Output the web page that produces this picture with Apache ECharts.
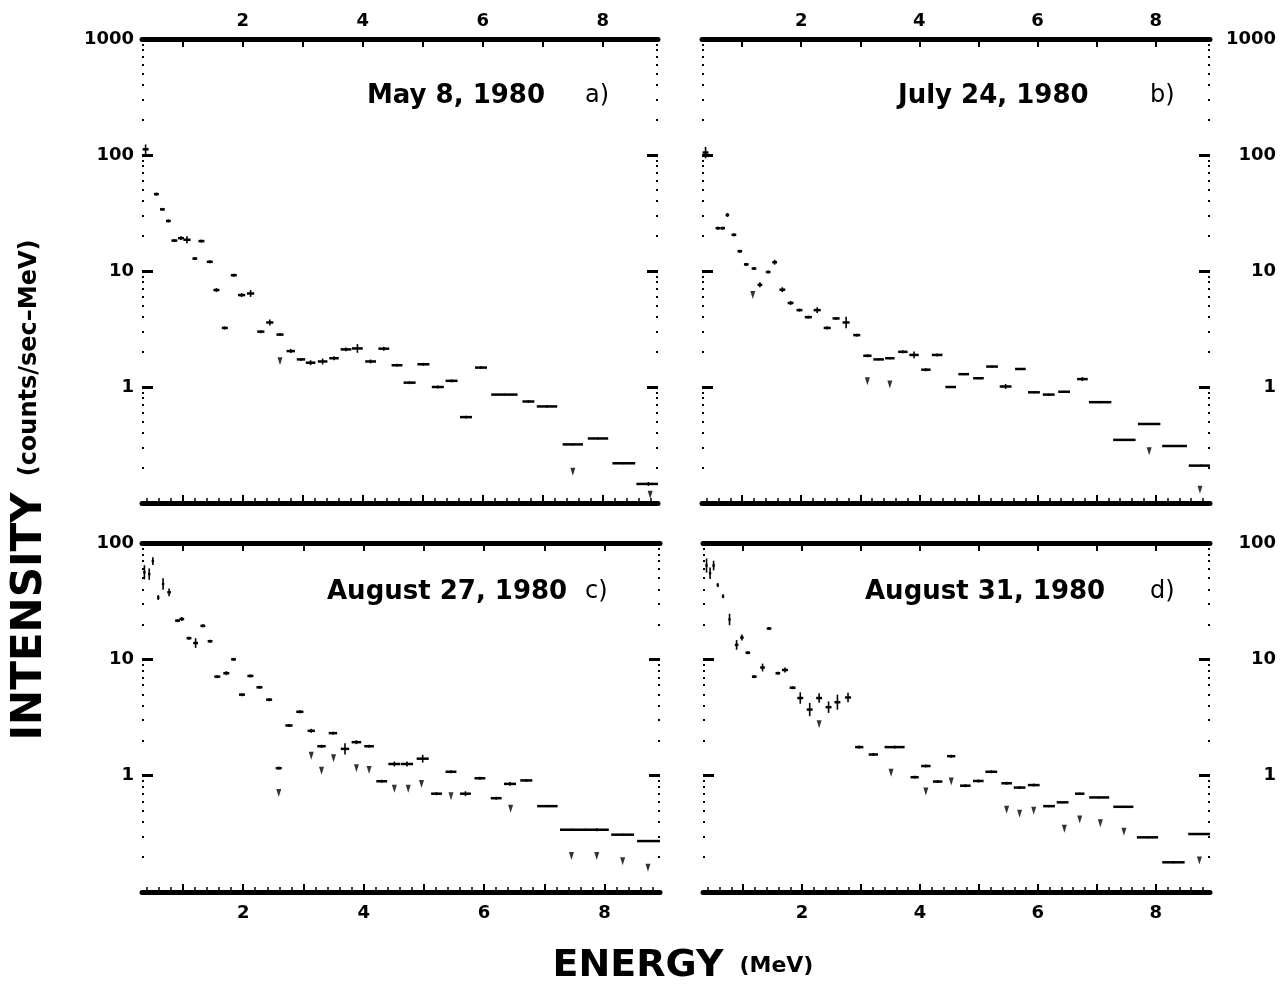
<!DOCTYPE html>
<html><head><meta charset="utf-8">
<script src="https://cdn.jsdelivr.net/npm/echarts@6/dist/echarts.min.js"></script>
<style>html,body{margin:0;padding:0;background:#fff}#c{width:1281px;height:986px}</style>
</head><body><div id="c"></div>
<script>
// ---------- axis / tick data ----------
const energyMin = 0.32, energyMax = 8.92;
const majorTicksX = [1, 2, 3, 4, 5, 6, 7, 8];
const labelTicksX = [2, 4, 6, 8];
const yLabelsTop = [1, 10, 100, 1000];
const yLabelsBottom = [1, 10, 100];
const panelTitles = ['May 8, 1980', 'July 24, 1980', 'August 27, 1980', 'August 31, 1980'];
const panelLetters = ['a)', 'b)', 'c)', 'd)'];

// ---------- panel a (May 8, 1980) ----------
const aE = [0.38,0.56,0.66,0.76,0.86,0.97,1.07,1.20,1.31,1.45,1.56,1.70,1.85,1.98,2.13,2.30,2.45,2.62,2.80,2.97,3.13,3.33,3.52,3.72,3.91,4.13,4.35,4.57,4.78,5.01,5.25,5.48,5.72,5.97,6.36,6.76,7.07,7.50,7.92,8.35,8.76];
const aW = [0.05,0.04,0.04,0.04,0.05,0.05,0.06,0.04,0.05,0.05,0.05,0.05,0.05,0.06,0.06,0.06,0.06,0.06,0.07,0.07,0.08,0.08,0.08,0.09,0.09,0.09,0.09,0.09,0.10,0.10,0.10,0.10,0.10,0.10,0.22,0.10,0.17,0.17,0.17,0.19,0.20];
const aI = [112,46,34,27,18.3,19.2,18.6,12.8,18.1,12.0,6.85,3.23,9.2,6.2,6.4,3.0,3.6,2.83,2.04,1.73,1.62,1.66,1.77,2.11,2.15,1.66,2.14,1.54,1.09,1.57,1.0,1.13,0.55,1.47,0.86,0.75,0.68,0.32,0.36,0.22,0.146];
const aErr = [0.10,0.03,0.03,0.03,0.03,0.04,0.07,0.03,0.03,0.03,0.04,0.03,0.03,0.04,0.07,0.03,0.06,0.03,0.04,0.03,0.05,0.06,0.04,0.04,0.09,0.04,0.04,0.03,0.03,0.03,0.03,0.03,0.03,0.03,0.02,0.03,0.03,0.02,0.02,0.02,0.04];
const aArrows = [[2.62,1.67],[7.50,0.186],[8.79,0.118]];

// ---------- panel b (July 24, 1980) ----------
const bE = [0.38,0.59,0.67,0.75,0.86,0.96,1.07,1.20,1.30,1.44,1.55,1.68,1.82,1.97,2.12,2.27,2.44,2.59,2.76,2.94,3.12,3.31,3.50,3.72,3.91,4.11,4.30,4.53,4.75,5.00,5.23,5.46,5.71,5.94,6.19,6.45,6.76,7.06,7.47,7.89,8.32,8.77];
const bW = [0.05,0.04,0.04,0.03,0.04,0.04,0.04,0.04,0.04,0.04,0.04,0.05,0.05,0.05,0.06,0.06,0.06,0.06,0.06,0.06,0.07,0.09,0.08,0.08,0.08,0.08,0.09,0.09,0.09,0.09,0.10,0.10,0.09,0.10,0.10,0.10,0.09,0.19,0.19,0.19,0.21,0.21];
const bI = [105,23.4,23.4,30.4,20.5,14.8,11.4,10.5,7.6,9.8,11.9,6.9,5.3,4.6,4.0,4.6,3.23,3.9,3.6,2.8,1.86,1.73,1.77,2.01,1.89,1.41,1.89,1.0,1.29,1.19,1.50,1.01,1.43,0.90,0.86,0.91,1.17,0.74,0.35,0.48,0.31,0.21];
const bErr = [0.12,0.03,0.03,0.04,0.03,0.03,0.03,0.03,0.05,0.03,0.05,0.05,0.04,0.03,0.03,0.06,0.03,0.03,0.12,0.03,0.03,0.02,0.02,0.03,0.07,0.03,0.03,0.02,0.02,0.02,0.02,0.05,0.02,0.02,0.02,0.02,0.04,0.02,0.02,0.02,0.02,0.02];
const bArrows = [[1.18,6.2],[3.12,1.12],[3.50,1.05],[7.89,0.28],[8.75,0.13]];

// ---------- panel c (August 27, 1980) ----------
const cE = [0.36,0.44,0.50,0.59,0.67,0.77,0.91,0.98,1.10,1.21,1.33,1.45,1.57,1.72,1.84,1.98,2.12,2.27,2.43,2.59,2.76,2.94,3.13,3.30,3.49,3.69,3.88,4.09,4.30,4.51,4.72,4.98,5.21,5.45,5.69,5.93,6.20,6.43,6.70,7.05,7.47,7.87,8.30,8.74];
const cW = [0.02,0.02,0.02,0.02,0.02,0.03,0.04,0.04,0.04,0.04,0.04,0.04,0.05,0.05,0.04,0.05,0.05,0.05,0.05,0.05,0.06,0.06,0.06,0.07,0.07,0.07,0.08,0.08,0.09,0.10,0.10,0.10,0.09,0.09,0.09,0.09,0.09,0.10,0.10,0.17,0.21,0.20,0.19,0.20];
const cI = [56,54,70,34,44.5,37.7,21.5,22.2,15.2,13.8,19.4,14.3,7.1,7.6,10.0,4.97,7.2,5.75,4.5,1.16,2.7,3.54,2.43,1.79,2.32,1.70,1.94,1.79,0.895,1.26,1.26,1.40,0.70,1.08,0.70,0.95,0.64,0.85,0.91,0.547,0.343,0.343,0.311,0.274];
const cErr = [0.15,0.12,0.08,0.05,0.12,0.08,0.03,0.04,0.03,0.10,0.03,0.03,0.03,0.04,0.03,0.03,0.03,0.03,0.03,0.03,0.03,0.03,0.04,0.03,0.03,0.12,0.04,0.03,0.03,0.05,0.05,0.08,0.03,0.03,0.05,0.03,0.03,0.04,0.03,0.02,0.02,0.03,0.02,0.02];
const cArrows = [[2.59,0.71],[3.13,1.48],[3.30,1.10],[3.50,1.41],[3.88,1.16],[4.09,1.12],[4.51,0.77],[4.74,0.77],[4.96,0.85],[5.45,0.665],[6.44,0.52],[7.45,0.204],[7.87,0.204],[8.30,0.184],[8.72,0.162]];

// ---------- panel d (August 31, 1980) ----------
const dE = [0.38,0.44,0.50,0.57,0.66,0.77,0.89,0.98,1.08,1.19,1.33,1.44,1.59,1.71,1.84,1.97,2.13,2.29,2.45,2.60,2.78,2.97,3.21,3.57,3.91,4.10,4.30,4.53,4.77,4.99,5.21,5.47,5.69,5.93,6.19,6.42,6.71,7.04,7.45,7.86,8.30,8.76];
const dW = [0.02,0.02,0.02,0.02,0.02,0.02,0.03,0.03,0.04,0.04,0.04,0.04,0.04,0.05,0.05,0.05,0.05,0.05,0.05,0.05,0.05,0.07,0.08,0.17,0.07,0.08,0.08,0.07,0.09,0.09,0.10,0.09,0.10,0.10,0.10,0.10,0.08,0.17,0.17,0.18,0.19,0.21];
const dI = [64,55,64,43.5,34.8,22,13.3,15.4,11.4,7.1,8.5,18.4,7.6,8.1,5.7,4.65,3.7,4.65,3.88,4.28,4.7,1.76,1.52,1.76,0.97,1.21,0.89,1.47,0.82,0.90,1.08,0.86,0.79,0.83,0.547,0.59,0.70,0.65,0.54,0.295,0.18,0.315];
const dErr = [0.15,0.12,0.10,0.04,0.04,0.12,0.10,0.06,0.03,0.03,0.08,0.03,0.03,0.05,0.03,0.12,0.14,0.10,0.12,0.16,0.10,0.03,0.03,0.03,0.03,0.03,0.03,0.03,0.03,0.03,0.03,0.03,0.03,0.03,0.02,0.02,0.02,0.02,0.02,0.02,0.02,0.02];
const dArrows = [[2.29,2.77],[3.51,1.06],[4.10,0.73],[4.53,0.89],[5.47,0.51],[5.69,0.47],[5.93,0.50],[6.45,0.35],[6.71,0.42],[7.06,0.39],[7.46,0.33],[8.74,0.187]];

const panels = [
  {E:aE, W:aW, I:aI, Err:aErr, arrows:aArrows, ymax:1000},
  {E:bE, W:bW, I:bI, Err:bErr, arrows:bArrows, ymax:1000},
  {E:cE, W:cW, I:cI, Err:cErr, arrows:cArrows, ymax:100},
  {E:dE, W:dW, I:dI, Err:dErr, arrows:dArrows, ymax:100}
];

// ---------- layout ----------
const grids = [
  {left:142, top:39, width:516, height:464},
  {left:702, top:39, width:508, height:464},
  {left:142, top:543, width:518, height:349},
  {left:703, top:543, width:507, height:349}
];

const minorX = [];
for (let k = 2; k <= 44; k++) { const v = k / 5; if (k % 5 !== 0 && v > energyMin && v < energyMax) minorX.push(+v.toFixed(2)); }
const minorY = [];
[0.1, 1, 10, 100].forEach(d => { for (let m = 2; m <= 9; m++) minorY.push(+(m * d).toFixed(3)); });

const FONT = 'DejaVu Sans';
const xAxes = [], yAxes = [], series = [];

grids.forEach((g, i) => {
  const top = i < 2;
  const leftLbl = (i % 2 === 0);
  const p = panels[i];
  const xb = xAxes.length;
  xAxes.push({type:'value', gridIndex:i, position:'bottom', min:energyMin, max:energyMax,
    axisLine:{show:true, lineStyle:{color:'#000', width:5}},
    axisTick:{show:true, inside:true, length:8, lineStyle:{color:'#000', width:2}, customValues:majorTicksX},
    axisLabel:{show:!top, margin:12, color:'#000', fontFamily:FONT, fontWeight:'bold', fontSize:18, customValues:labelTicksX},
    splitLine:{show:false}});
  xAxes.push({type:'value', gridIndex:i, position:'top', min:energyMin, max:energyMax,
    axisLine:{show:true, lineStyle:{color:'#000', width:5}},
    axisTick:{show:true, inside:true, length:8, lineStyle:{color:'#000', width:2}, customValues:majorTicksX},
    axisLabel:{show:top, margin:9, color:'#000', fontFamily:FONT, fontWeight:'bold', fontSize:18, customValues:labelTicksX},
    splitLine:{show:false}});
  xAxes.push({type:'value', gridIndex:i, position:'bottom', min:energyMin, max:energyMax,
    axisLine:{show:false},
    axisTick:{show:true, inside:true, length:5, lineStyle:{color:'#000', width:1.5}, customValues:minorX},
    axisLabel:{show:false}, splitLine:{show:false}});

  const yl = yAxes.length;
  const ylabels = p.ymax === 1000 ? yLabelsTop : yLabelsBottom;
  yAxes.push({type:'log', logBase:10, gridIndex:i, position:'left', min:0.1, max:p.ymax,
    axisLine:{show:false},
    axisTick:{show:true, inside:true, length:11, lineStyle:{color:'#000', width:3}},
    axisLabel:{show:leftLbl, margin:8, color:'#000', fontFamily:FONT, fontSize:18, fontWeight:'bold', customValues:ylabels, formatter:v=>String(Math.round(v))},
    splitLine:{show:false}});
  yAxes.push({type:'log', logBase:10, gridIndex:i, position:'right', min:0.1, max:p.ymax,
    axisLine:{show:false},
    axisTick:{show:true, inside:true, length:11, lineStyle:{color:'#000', width:3}},
    axisLabel:{show:!leftLbl, margin:66, align:'right', color:'#000', fontFamily:FONT, fontSize:18, fontWeight:'bold', customValues:ylabels, formatter:v=>String(Math.round(v))},
    splitLine:{show:false}});
  yAxes.push({type:'log', logBase:10, gridIndex:i, position:'left', min:0.1, max:p.ymax,
    axisLine:{show:false},
    axisTick:{show:true, inside:true, length:2, lineStyle:{color:'#000', width:2}, customValues:minorY.filter(v=>v<p.ymax)},
    axisLabel:{show:false}, splitLine:{show:false}});
  yAxes.push({type:'log', logBase:10, gridIndex:i, position:'right', min:0.1, max:p.ymax,
    axisLine:{show:false},
    axisTick:{show:true, inside:true, length:2, lineStyle:{color:'#000', width:2}, customValues:minorY.filter(v=>v<p.ymax)},
    axisLabel:{show:false}, splitLine:{show:false}});

  const data = p.E.map((e, k) => [e, p.W[k], p.I[k], p.Err[k]]);
  series.push({type:'custom', xAxisIndex:xb, yAxisIndex:yl, clip:true, encode:{x:0, y:2},
    data, silent:true,
    renderItem:(params, api) => {
      const x = api.value(0), w = api.value(1), y = api.value(2), e = api.value(3);
      const p1 = api.coord([x - w, y]), p2 = api.coord([x + w, y]);
      const pc = api.coord([x, y]);
      const pt = api.coord([x, y * (1 + e)]), pb = api.coord([x, y / (1 + e)]);
      return {type:'group', children:[
        {type:'line', shape:{x1:p1[0], y1:p1[1], x2:p2[0], y2:p2[1]}, style:{stroke:'#000', lineWidth:2.5}},
        {type:'line', shape:{x1:pc[0], y1:pt[1], x2:pc[0], y2:pb[1]}, style:{stroke:'#000', lineWidth:1.6}}
      ]};
    }});
  series.push({type:'scatter', xAxisIndex:xb, yAxisIndex:yl, data:p.arrows, silent:true,
    symbol:'triangle', symbolRotate:180, symbolSize:[5, 8], itemStyle:{color:'#000'}});
});

const titlePos = [[367, 96], [898, 96], [327, 592], [865, 592]];
const letterPos = [[585, 96], [1150, 96], [585, 592], [1150, 592]];
const graphics = [];
panelTitles.forEach((t, i) => {
  graphics.push({type:'text', x:titlePos[i][0], y:titlePos[i][1],
    style:{text:t, fill:'#000', font:'bold 26px "DejaVu Sans"', textAlign:'left', textVerticalAlign:'middle'}});
  graphics.push({type:'text', x:letterPos[i][0], y:letterPos[i][1],
    style:{text:panelLetters[i], fill:'#000', font:'24px "DejaVu Sans"', textAlign:'left', textVerticalAlign:'middle'}});
});
graphics.push({type:'text', x:683, y:966,
  style:{text:'{a|ENERGY}{b|(MeV)}', fill:'#000', textAlign:'center', textVerticalAlign:'middle',
    rich:{a:{font:'900 38px "DejaVu Sans"', fill:'#000', verticalAlign:'middle'},
          b:{font:'bold 22px "DejaVu Sans"', fill:'#000', verticalAlign:'middle', padding:[0, 0, 0, 16]}}}});
graphics.push({type:'text', x:30, y:490, rotation:Math.PI / 2,
  style:{text:'{a|INTENSITY}{b|(counts/sec\u2013MeV)}', fill:'#000', textAlign:'center', textVerticalAlign:'middle',
    rich:{a:{font:'900 42px "DejaVu Sans"', fill:'#000', verticalAlign:'middle'},
          b:{font:'bold 24px "DejaVu Sans"', fill:'#000', verticalAlign:'middle', padding:[0, 0, 0, 16]}}}});

const chart = echarts.init(document.getElementById('c'), null, {renderer:'canvas'});
chart.setOption({
  animation:false, backgroundColor:'#fff',
  grid:grids.map(g => Object.assign({containLabel:false}, g)),
  xAxis:xAxes, yAxis:yAxes, series, graphic:graphics
});
</script></body></html>
